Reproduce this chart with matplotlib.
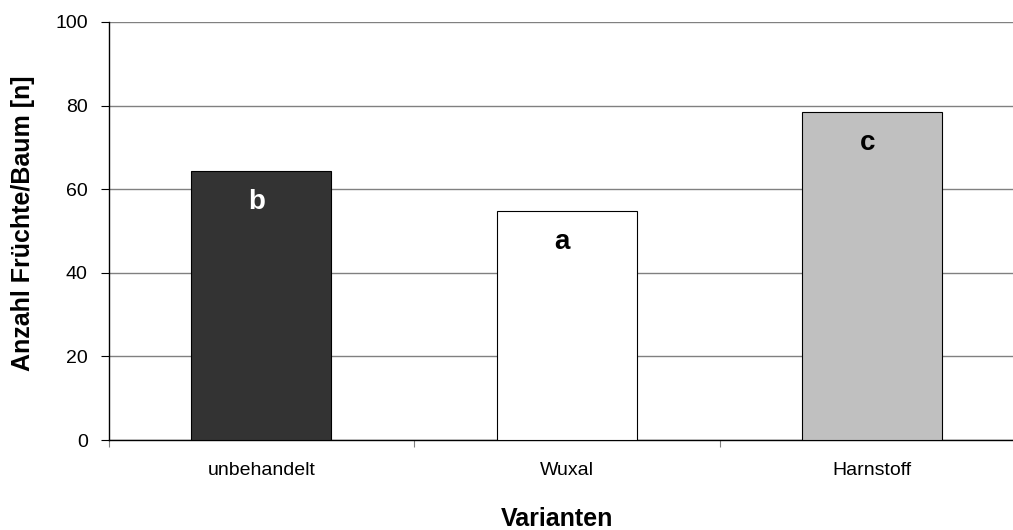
import numpy as np
import matplotlib
matplotlib.use('Agg')
import matplotlib.pyplot as plt

plt.rcParams['font.family'] = ['Liberation Sans', 'DejaVu Sans']

varianten = ['unbehandelt', 'Wuxal', 'Harnstoff']
frucht_anzahl = [64.4, 54.8, 78.4]
buchstaben = ['b', 'a', 'c']
farben = ['#333333', '#ffffff', '#c0c0c0']
text_farben = ['white', 'black', 'black']

W, H = 1013, 530
fig = plt.figure(figsize=(W / 100, H / 100), dpi=100)
ax = fig.add_axes([0.1073, 0.1698, 0.9047, 0.7887])

xpos = np.arange(len(varianten))
ax.bar(xpos, frucht_anzahl, width=0.458, color=farben,
       edgecolor='black', linewidth=0.8, zorder=3)

# Buchstaben (Signifikanz) in den Balken
for x, v, b, c in zip(xpos, frucht_anzahl, buchstaben, text_farben):
    ax.text(x - 0.015, v - 9.1, b, ha='center', va='baseline',
            fontsize=20, fontweight='bold', color=c, zorder=4)

ax.set_xlim(-0.5, 2.5)
ax.set_ylim(0, 100)
ax.set_yticks(np.arange(0, 101, 20))
ax.yaxis.grid(True, color='#808080', linewidth=1.0, zorder=0)
ax.set_axisbelow(True)

ax.set_xticks([-0.5, 0.5, 1.5, 2.5])
ax.set_xticklabels([])
ax.set_xticks(xpos, minor=True)
ax.set_xticklabels(varianten, minor=True, fontsize=14)
ax.tick_params(axis='x', which='minor', length=0, pad=16)
ax.tick_params(axis='x', which='major', direction='out', length=5, color='#808080')
ax.tick_params(axis='y', direction='out', length=6, labelsize=14, pad=9)

for s in ['top', 'right']:
    ax.spines[s].set_visible(False)
ax.spines['left'].set_linewidth(1.0)
ax.spines['bottom'].set_linewidth(1.0)

fig.text(23 / W, 1 - 223.5 / H, 'Anzahl Früchte/Baum [n]', rotation=90,
         ha='center', va='center', fontsize=18, fontweight='bold')
fig.text(557 / W, 3.5 / H, 'Varianten', ha='center', va='baseline',
         fontsize=18, fontweight='bold')

fig.savefig('out.png', dpi=100)
